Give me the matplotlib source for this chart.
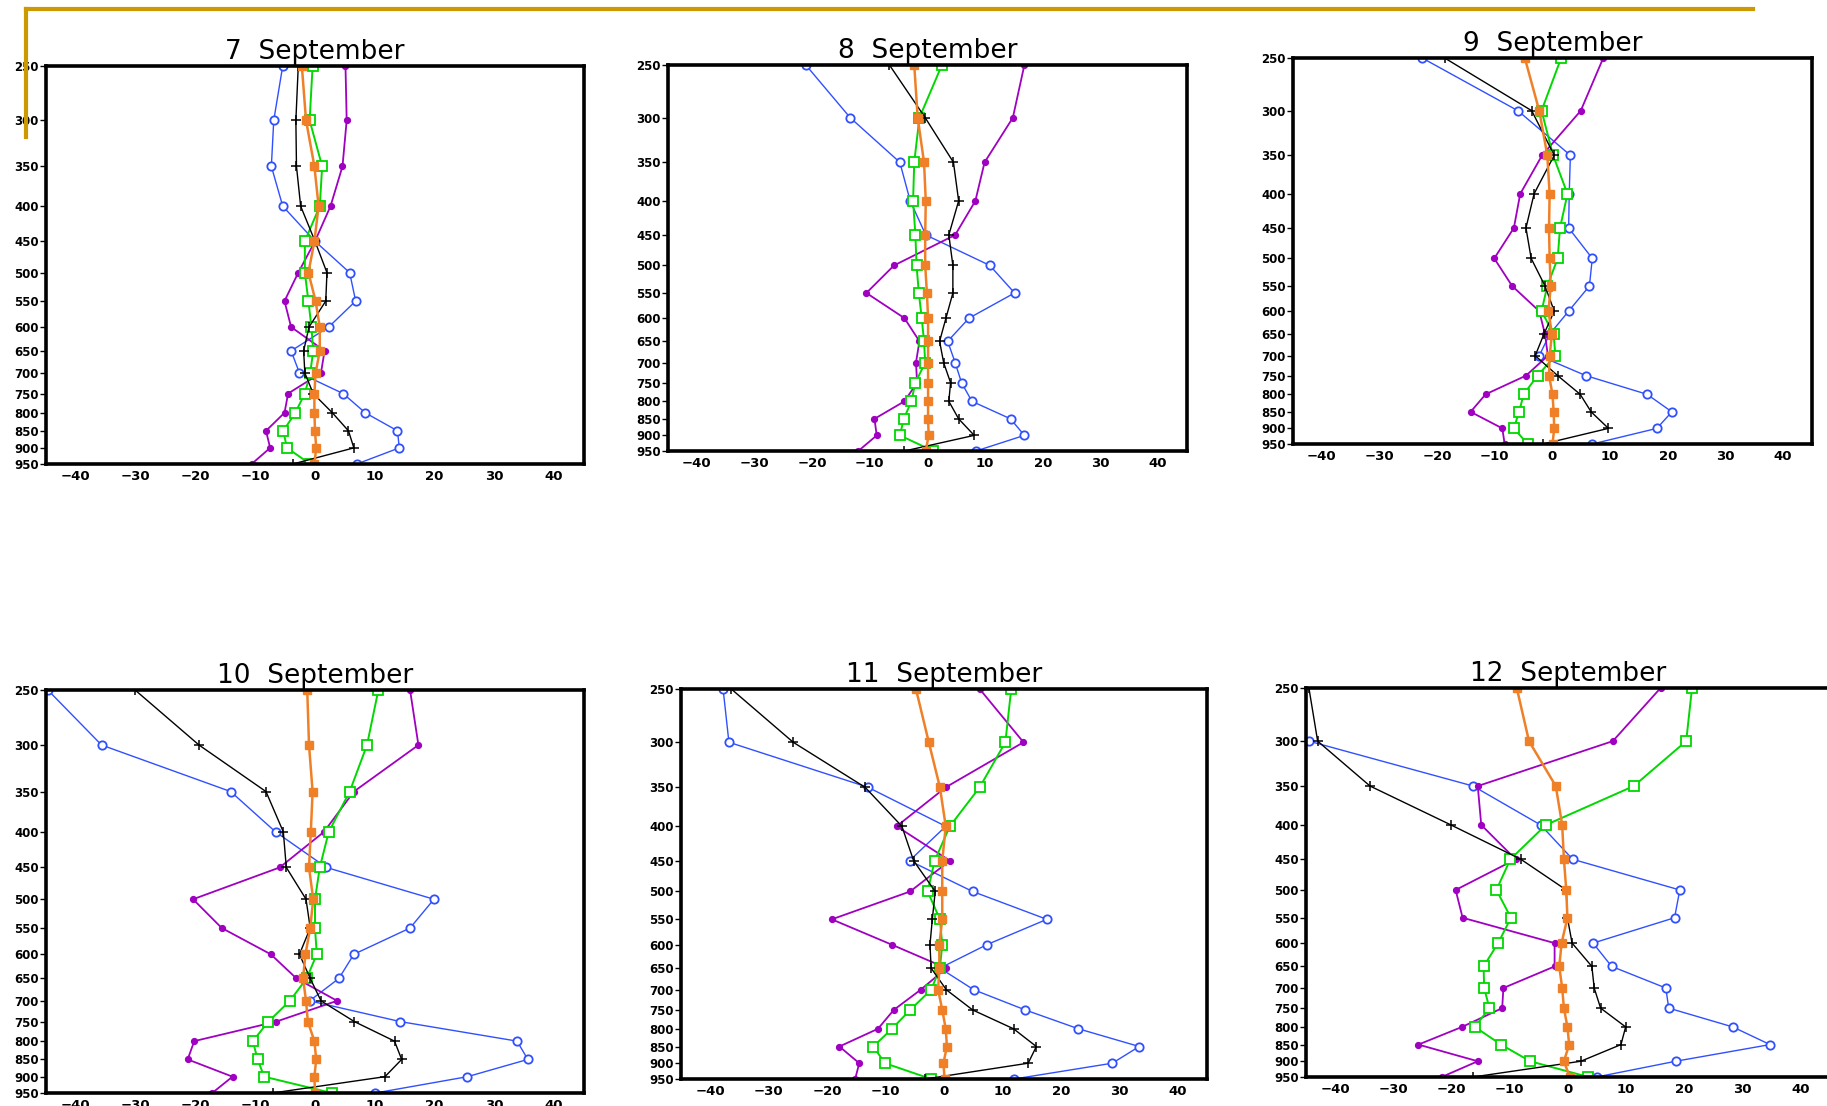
import matplotlib
matplotlib.use('Agg')
import matplotlib.pyplot as plt
from matplotlib.lines import Line2D

plt.rcParams['font.family'] = ['DejaVu Sans']

# pressure levels (hPa)
levels = [250, 300, 350, 400, 450, 500, 550, 600, 650, 700, 750, 800, 850, 900, 950]
xticks = [-40, -30, -20, -10, 0, 10, 20, 30, 40]
titles = ['7  September', '8  September', '9  September',
          '10  September', '11  September', '12  September']

# 7 September
sep07_blue = [-5.4, -6.9, -7.3, -5.4, 0.0, 5.8, 6.8, 2.3, -4.0, -2.6, 4.7, 8.4, 13.8, 14.1, 7.0]
sep07_black = [-2.8, -3.2, -3.1, -2.4, 0.0, 2.0, 1.8, -1.0, -1.9, -1.7, -0.3, 2.9, 5.6, 6.5, -3.7]
sep07_orange = [-2.2, -1.5, -0.1, 0.6, -0.1, -1.1, 0.1, 0.8, 0.8, 0.1, -0.1, -0.1, 0.0, 0.2, -0.1]
sep07_green = [-0.4, -0.9, 1.2, 0.8, -1.7, -1.7, -1.1, -0.6, -0.3, -0.8, -1.7, -3.3, -5.3, -4.7, -0.8]
sep07_purple = [5.1, 5.3, 4.6, 2.6, 0.0, -2.8, -5.1, -4.0, 1.6, 1.0, -4.5, -5.1, -8.2, -7.5, -10.6]

# 8 September
sep08_blue = [-21.1, -13.4, -4.8, -3.0, -0.3, 10.8, 15.1, 7.2, 3.5, 4.8, 5.9, 7.7, 14.4, 16.8, 8.4]
sep08_black = [-6.6, -0.4, 4.5, 5.4, 3.7, 4.4, 4.4, 3.2, 2.1, 2.8, 4.0, 3.7, 5.4, 8.1, -4.0]
sep08_orange = [-2.3, -1.7, -0.6, -0.3, -0.4, -0.4, -0.1, 0.1, 0.1, 0.1, 0.1, 0.1, 0.1, 0.2, -0.3]
sep08_green = [2.5, -1.4, -2.3, -2.5, -2.1, -1.9, -1.5, -1.0, -0.6, -0.4, -2.1, -2.8, -4.1, -4.8, 1.0]
sep08_purple = [16.8, 14.8, 9.9, 8.3, 4.8, -5.8, -10.6, -4.0, -1.4, -2.0, -1.8, -4.0, -9.2, -8.8, -12.0]

# 9 September
sep09_blue = [-22.6, -6.0, 3.1, 2.9, 2.8, 6.9, 6.4, 2.8, -0.5, -2.3, 5.8, 16.4, 20.7, 18.1, 6.9]
sep09_black = [-18.7, -3.6, 0.3, -3.2, -4.6, -3.7, -1.3, 0.3, -1.5, -3.0, 0.9, 4.8, 6.7, 9.7, -1.6]
sep09_orange = [-4.8, -2.3, -0.9, -0.5, -0.6, -0.5, -0.3, -0.7, -0.1, -0.5, -0.6, 0.0, 0.2, 0.3, 0.0]
sep09_green = [1.5, -1.9, 0.1, 2.6, 1.3, 0.9, -0.9, -1.9, 0.2, 0.5, -2.6, -5.0, -5.8, -6.7, -4.3]
sep09_purple = [8.8, 4.9, -1.8, -5.6, -6.7, -10.1, -7.0, -2.3, -1.3, -0.8, -4.6, -11.6, -14.2, -8.7, -8.3]

# 10 September
sep10_blue = [-44.7, -35.7, -14.1, -6.6, 1.9, 19.9, 15.9, 6.5, 4.0, -0.9, 14.3, 33.8, 35.6, 25.5, 10.1]
sep10_black = [-30.1, -19.4, -8.2, -5.3, -4.8, -1.5, -0.8, -2.6, -0.8, 1.0, 6.6, 13.3, 14.5, 11.7, -7.1]
sep10_orange = [-1.3, -1.0, -0.4, -0.7, -1.0, -0.3, -0.8, -1.6, -2.0, -1.5, -1.2, -0.1, 0.2, -0.1, 0.0]
sep10_green = [10.6, 8.7, 5.8, 2.3, 0.8, 0.0, 0.0, 0.3, -1.4, -4.2, -7.8, -10.4, -9.6, -8.5, 2.8]
sep10_purple = [15.9, 17.3, 6.5, 1.5, -5.9, -20.4, -15.6, -7.4, -3.1, 3.7, -6.5, -20.2, -21.3, -13.8, -17.2]

# 11 September
sep11_blue = [-37.8, -36.8, -13.0, 0.3, -5.9, 4.9, 17.6, 7.3, -0.7, 5.1, 13.9, 23.0, 33.4, 28.8, 12.0]
sep11_black = [-36.4, -25.8, -13.5, -7.2, -5.2, -1.5, -2.0, -2.4, -2.2, 0.4, 4.9, 11.9, 15.8, 14.4, -3.2]
sep11_orange = [-4.8, -2.6, -0.7, 0.3, -0.3, -0.3, -0.3, -0.8, -0.8, -1.0, -0.3, 0.3, 0.5, -0.1, 0.1]
sep11_green = [11.5, 10.5, 6.1, 1.0, -1.6, -2.8, -0.7, -0.3, -0.7, -2.2, -5.8, -8.9, -12.1, -10.1, -2.2]
sep11_purple = [6.1, 13.6, 0.3, -8.1, 1.0, -5.8, -19.2, -8.9, 0.4, -4.0, -8.6, -11.3, -17.9, -14.5, -15.2]

# 12 September
sep12_blue = [-50.0, -44.5, -16.3, -4.7, 0.8, 19.2, 18.3, 4.3, 7.5, 16.8, 17.3, 28.3, 34.7, 18.5, 4.9]
sep12_black = [-44.5, -43.0, -34.0, -20.1, -8.1, -0.3, -0.1, 0.7, 4.1, 4.5, 5.6, 9.9, 9.1, 2.2, -16.3]
sep12_orange = [-8.8, -6.7, -2.1, -1.0, -0.7, -0.3, -0.1, -1.1, -1.5, -1.0, -0.7, -0.1, 0.2, -0.7, 0.3]
sep12_green = [21.3, 20.3, 11.3, -3.8, -9.9, -12.3, -9.8, -12.0, -14.5, -14.4, -13.5, -16.0, -11.5, -6.5, 3.5]
sep12_purple = [15.9, 7.7, -15.5, -14.9, -9.0, -19.3, -18.1, -2.3, -2.3, -11.1, -11.3, -18.2, -25.7, -15.5, -21.7]

days = [
    (sep07_blue, sep07_black, sep07_orange, sep07_green, sep07_purple),
    (sep08_blue, sep08_black, sep08_orange, sep08_green, sep08_purple),
    (sep09_blue, sep09_black, sep09_orange, sep09_green, sep09_purple),
    (sep10_blue, sep10_black, sep10_orange, sep10_green, sep10_purple),
    (sep11_blue, sep11_black, sep11_orange, sep11_green, sep11_purple),
    (sep12_blue, sep12_black, sep12_orange, sep12_green, sep12_purple),
]

W, H = 1827, 1106
# axes boxes in pixels: left, top, right, bottom
boxes = [(46, 66, 584, 464), (668, 65, 1187, 451), (1293, 58, 1812, 444),
         (46, 690, 584, 1093), (681, 689, 1207, 1079), (1306, 688, 1830, 1077)]

fig = plt.figure(figsize=(W / 100, H / 100), dpi=100)

for i, (box, data) in enumerate(zip(boxes, days)):
    l, t, r, b = box
    ax = fig.add_axes([l / W, 1 - b / H, (r - l) / W, (b - t) / H])
    blue, black, orange, green, purple = data
    ax.plot(blue, levels, '-o', color='#3050ff', lw=1.0, ms=6, mfc='white', mec='#3050ff', mew=1.3)
    ax.plot(purple, levels, '-o', color='#a000c0', lw=1.3, ms=4.2, mec='#a000c0')
    ax.plot(green, levels, '-s', color='#00d800', lw=1.4, ms=6.5, mfc='white', mec='#00d800', mew=1.3)
    ax.plot(black, levels, '-+', color='black', lw=1.0, ms=7, mew=1.1)
    ax.plot(orange, levels, '-s', color='#f08028', lw=1.8, ms=5.8, mec='#f08028')

    ax.set_yscale('log')
    ax.set_ylim(950, 250)
    ax.set_yticks(levels)
    ax.set_yticklabels([str(p) for p in levels])
    ax.minorticks_off()
    ax.set_xlim(-45, 45)
    ax.set_xticks(xticks)
    ax.set_xticklabels(['\u2212%d' % -v if v < 0 else str(v) for v in xticks])
    ax.tick_params(axis='y', direction='out', length=4, width=1, pad=1, labelsize=8.5)
    ax.tick_params(axis='x', direction='out', length=0, pad=4, labelsize=9.5)
    for lab in ax.get_xticklabels() + ax.get_yticklabels():
        lab.set_fontweight('bold')
    for sp in ax.spines.values():
        sp.set_linewidth(2.6)
    ax.set_title(titles[i], fontsize=19, pad=5)

# decorative gold frame lines
gold = '#cc9900'
fig.add_artist(Line2D([26 / W, 1753 / W], [1 - 9 / H, 1 - 9 / H], color=gold, lw=3))
fig.add_artist(Line2D([26 / W, 26 / W], [1 - 9 / H, 1 - 137 / H], color=gold, lw=3))

fig.savefig('out.png', dpi=100)
